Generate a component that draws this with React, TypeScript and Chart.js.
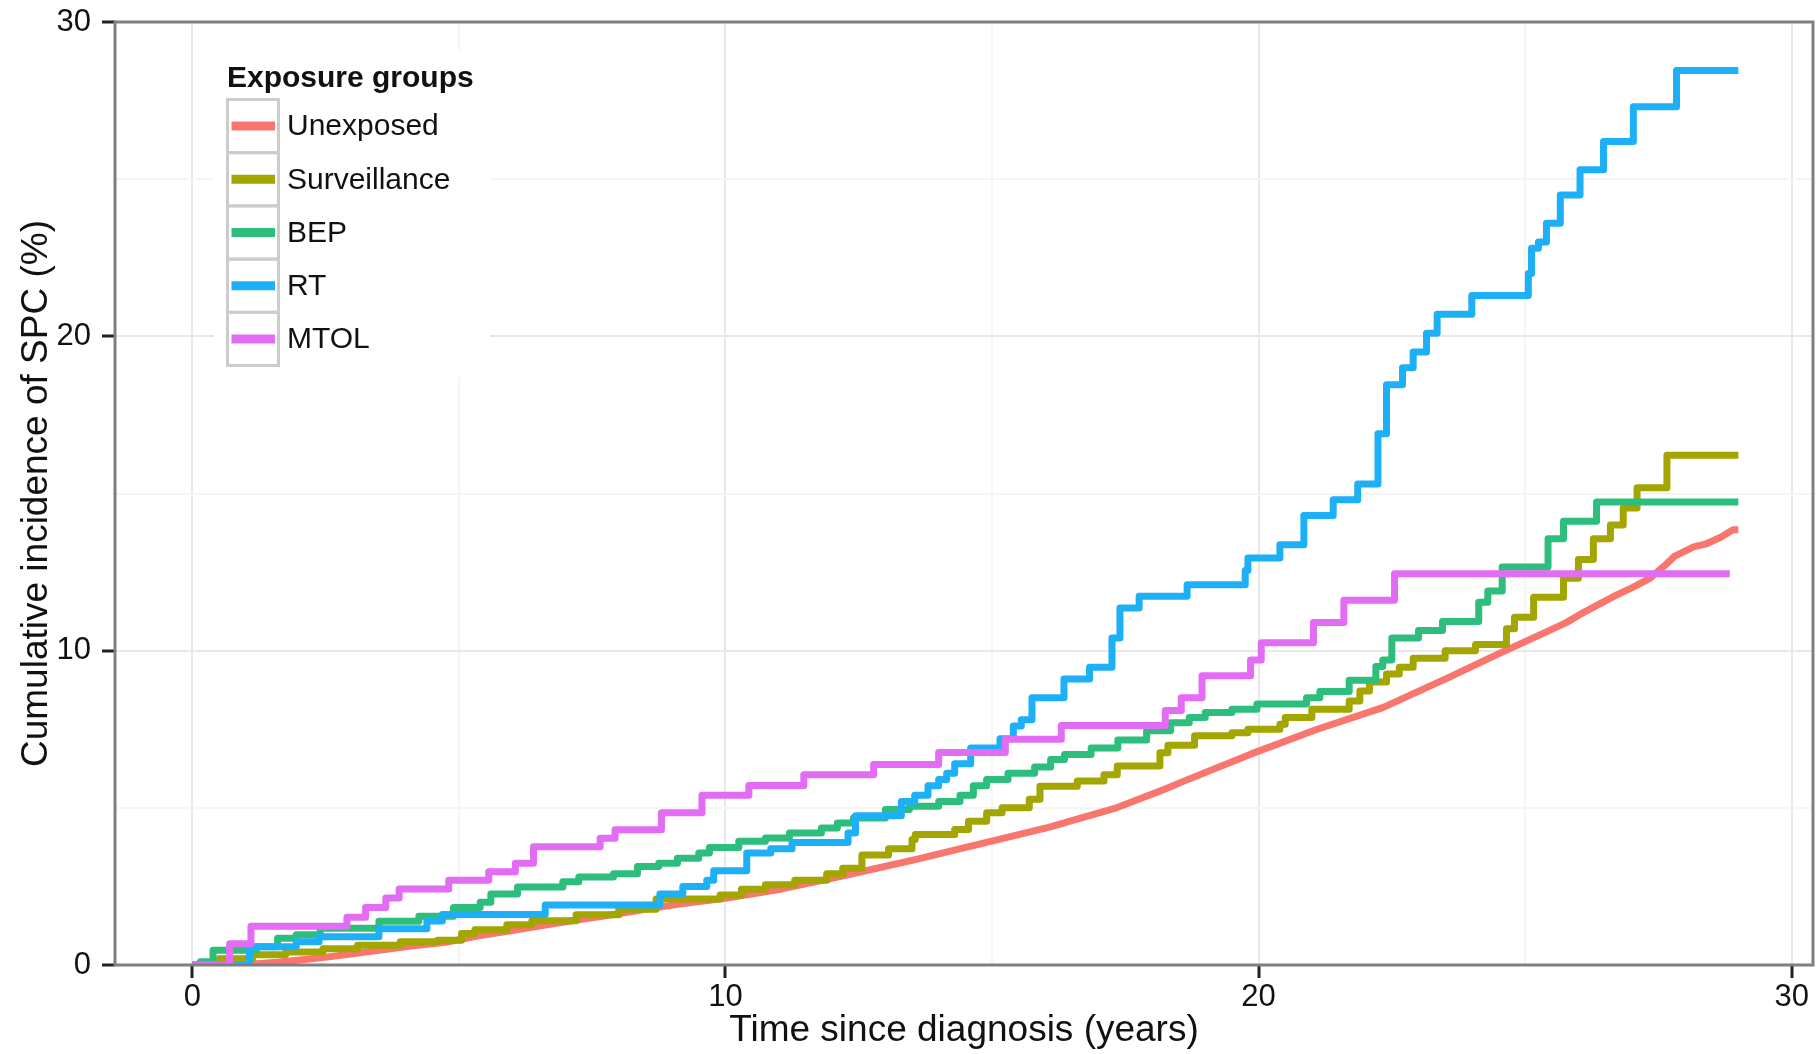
import React, { useEffect, useRef } from 'react';
import { Chart, registerables } from 'chart.js';

Chart.register(...registerables);

// ---- Data (time in years, cumulative incidence in %) ----
const seriesNames = ['Unexposed', 'Surveillance', 'BEP', 'RT', 'MTOL'];
const seriesColors = ['#F8766D', '#A3A500', '#2DBE7D', '#1EB0F6', '#E26CF3'];

const unexposedT = [0, 1.0, 1.6, 2.25, 2.9, 3.5, 4.1, 4.75, 5.37, 6.0, 6.62, 7.24, 7.87, 8.5, 9.1, 10.0, 11.06, 12.3, 13.56, 14.8, 16.06, 17.3, 18.25, 18.6, 19.84, 21.1, 22.33, 23.57, 24.5, 25.43, 25.78, 26.1, 26.4, 26.7, 27.03, 27.34, 27.66, 27.8, 28.16, 28.4, 28.66, 28.9, 29.0];
const unexposedY = [0, 0.02, 0.09, 0.2, 0.33, 0.47, 0.6, 0.72, 0.93, 1.1, 1.27, 1.44, 1.6, 1.77, 1.93, 2.12, 2.42, 2.87, 3.35, 3.86, 4.38, 4.98, 5.6, 5.85, 6.7, 7.5, 8.19, 9.15, 9.9, 10.62, 10.9, 11.22, 11.49, 11.76, 12.02, 12.3, 12.77, 13.0, 13.3, 13.4, 13.6, 13.85, 13.85];

const surveillanceT = [0, 0.3, 0.5, 1.13, 1.75, 2.45, 3.1, 3.9, 4.6, 5.05, 5.3, 5.9, 6.37, 7.2, 8.0, 8.7, 9.9, 10.3, 10.75, 11.3, 11.9, 12.2, 12.56, 13.06, 13.5, 13.56, 14.3, 14.56, 14.9, 15.19, 15.7, 15.9, 16.6, 17.1, 17.35, 18.15, 18.3, 18.8, 19.5, 19.8, 20.4, 20.5, 21.0, 21.7, 21.9, 22.08, 22.4, 22.64, 22.9, 23.5, 24.07, 24.65, 24.8, 25.16, 25.72, 26.0, 26.28, 26.6, 26.84, 27.1, 27.66, 29.0];
const surveillanceY = [0, 0.09, 0.2, 0.33, 0.41, 0.52, 0.63, 0.74, 0.79, 1.0, 1.12, 1.28, 1.41, 1.6, 1.77, 2.1, 2.23, 2.41, 2.55, 2.7, 2.9, 3.08, 3.5, 3.7, 3.99, 4.15, 4.31, 4.57, 4.84, 5.0, 5.27, 5.69, 5.85, 6.05, 6.33, 6.75, 6.99, 7.29, 7.39, 7.5, 7.66, 7.87, 8.14, 8.4, 8.72, 9.0, 9.26, 9.47, 9.76, 10.0, 10.2, 10.7, 11.06, 11.7, 12.3, 12.9, 13.56, 14.0, 14.54, 15.18, 16.22, 16.22];

const bepT = [0, 0.15, 0.39, 1.2, 1.6, 1.95, 2.4, 3.5, 4.25, 4.9, 5.4, 5.6, 6.1, 6.95, 7.25, 7.9, 8.35, 8.75, 9.1, 9.5, 9.7, 10.25, 10.75, 11.2, 11.8, 12.1, 12.4, 13.0, 13.45, 14.0, 14.4, 14.65, 14.9, 15.3, 15.8, 16.1, 16.36, 16.86, 17.36, 17.9, 18.35, 18.7, 19.0, 19.5, 19.97, 20.9, 21.15, 21.7, 22.2, 22.33, 22.5, 23.0, 23.45, 24.13, 24.3, 24.57, 25.43, 25.72, 26.34, 29.0];
const bepY = [0, 0.1, 0.47, 0.58, 0.85, 0.96, 1.17, 1.39, 1.55, 1.83, 2.0, 2.26, 2.48, 2.65, 2.8, 2.9, 3.13, 3.24, 3.4, 3.56, 3.74, 3.94, 4.04, 4.2, 4.36, 4.52, 4.68, 4.95, 5.05, 5.2, 5.4, 5.7, 5.9, 6.1, 6.3, 6.54, 6.7, 6.9, 7.16, 7.45, 7.71, 7.87, 8.03, 8.14, 8.3, 8.5, 8.7, 9.06, 9.5, 9.7, 10.4, 10.64, 10.93, 11.54, 11.9, 12.66, 13.56, 14.12, 14.73, 14.73];

const rtT = [0, 1.07, 1.95, 2.38, 3.5, 4.4, 4.69, 6.62, 8.77, 9.2, 9.65, 9.78, 10.4, 10.85, 11.25, 12.3, 12.44, 13.3, 13.55, 13.8, 14.0, 14.15, 14.3, 14.6, 15.15, 15.4, 15.55, 15.75, 16.35, 16.83, 17.25, 17.4, 17.76, 18.66, 19.75, 19.8, 20.4, 20.85, 21.4, 21.86, 22.24, 22.4, 22.7, 22.9, 23.15, 23.35, 24.0, 25.06, 25.12, 25.25, 25.4, 25.66, 26.03, 26.47, 27.03, 27.84, 29.0];
const rtY = [0, 0.58, 0.74, 0.9, 1.15, 1.4, 1.61, 1.91, 2.26, 2.5, 2.7, 3.0, 3.56, 3.7, 3.9, 4.2, 4.75, 5.2, 5.4, 5.7, 5.9, 6.1, 6.4, 6.9, 7.2, 7.6, 7.8, 8.5, 9.1, 9.47, 10.4, 11.36, 11.73, 12.1, 12.55, 12.95, 13.37, 14.3, 14.8, 15.3, 16.9, 18.46, 19.0, 19.5, 20.1, 20.7, 21.3, 22.0, 22.8, 23.0, 23.6, 24.5, 25.3, 26.2, 27.3, 28.46, 28.46];

const mtolT = [0, 0.7, 1.1, 2.9, 3.25, 3.63, 3.88, 4.81, 5.56, 6.06, 6.4, 7.65, 7.93, 8.8, 9.56, 10.44, 11.47, 12.78, 14.0, 15.25, 16.3, 18.25, 18.55, 18.94, 19.85, 20.05, 21.03, 21.6, 22.55, 28.84];
const mtolY = [0, 0.68, 1.23, 1.52, 1.83, 2.13, 2.42, 2.7, 2.97, 3.24, 3.76, 4.03, 4.3, 4.84, 5.4, 5.71, 6.05, 6.38, 6.76, 7.18, 7.62, 8.1, 8.5, 9.2, 9.7, 10.25, 10.9, 11.6, 12.45, 12.45];

const xTicks = [0, 10, 20, 30];
const yTicks = [0, 10, 20, 30];

const legendTitle = 'Exposure groups';
const xTitle = 'Time since diagnosis (years)';
const yTitle = 'Cumulative incidence of SPC (%)';

const FONT = '"Liberation Sans", Arial, Helvetica, sans-serif';

const seriesT = [unexposedT, surveillanceT, bepT, rtT, mtolT];
const seriesY = [unexposedY, surveillanceY, bepY, rtY, mtolY];
const seriesStepped = [false, true, true, true, true];

const panelPlugin = {
  id: 'panelFrame',
  afterDatasetsDraw(chart: any) {
    const { ctx, chartArea } = chart;
    ctx.save();
    ctx.strokeStyle = '#7f7f7f';
    ctx.lineWidth = 3;
    ctx.strokeRect(chartArea.left, chartArea.top, chartArea.right - chartArea.left, chartArea.bottom - chartArea.top);
    ctx.restore();
  },
};

const legendPlugin = {
  id: 'insideLegend',
  afterDraw(chart: any) {
    const { ctx } = chart;
    ctx.save();
    ctx.fillStyle = '#ffffff';
    ctx.fillRect(214, 50, 276, 327);
    ctx.fillStyle = '#111111';
    ctx.font = `bold 30px ${FONT}`;
    ctx.textBaseline = 'alphabetic';
    ctx.textAlign = 'left';
    ctx.fillText(legendTitle, 227, 87);
    const keyTop = 99.5;
    const keyH = 53.2;
    for (let i = 0; i < seriesNames.length; i++) {
      const top = keyTop + i * keyH;
      ctx.strokeStyle = '#cccccc';
      ctx.lineWidth = 3;
      ctx.strokeRect(227.5, top, 51, keyH);
      const cy = top + keyH / 2;
      ctx.strokeStyle = seriesColors[i];
      ctx.lineWidth = 9;
      ctx.lineCap = 'butt';
      ctx.beginPath();
      ctx.moveTo(231.5, cy);
      ctx.lineTo(275, cy);
      ctx.stroke();
      ctx.fillStyle = '#111111';
      ctx.font = `30px ${FONT}`;
      ctx.textBaseline = 'middle';
      ctx.fillText(seriesNames[i], 287, cy + 1);
    }
    ctx.restore();
  },
};

export default function App() {
  const canvasRef = useRef<HTMLCanvasElement | null>(null);

  useEffect(() => {
    const canvas = canvasRef.current;
    if (!canvas) return;
    const datasets = seriesNames.map((name, i) => ({
      label: name,
      data: seriesT[i].map((t, j) => ({ x: t, y: seriesY[i][j] })),
      borderColor: seriesColors[i],
      backgroundColor: seriesColors[i],
      borderWidth: 7,
      borderCapStyle: 'butt' as const,
      borderJoinStyle: 'round' as const,
      stepped: seriesStepped[i] ? ('before' as const) : false,
      tension: 0,
      pointRadius: 0,
      fill: false,
      order: seriesNames.length - i,
    }));

    const isMajor = (v: number, arr: number[]) => arr.some((m) => Math.abs(m - v) < 1e-6);

    const chart = new Chart(canvas, {
      type: 'line',
      data: { datasets },
      plugins: [panelPlugin, legendPlugin],
      options: {
        animation: false,
        responsive: false,
        devicePixelRatio: 1,
        layout: { padding: { top: 22, right: 4, bottom: 0, left: 0 } },
        plugins: {
          legend: { display: false },
          tooltip: { enabled: false },
        },
        scales: {
          x: {
            type: 'linear',
            min: -1.45,
            max: 30.4,
            border: { display: false },
            grid: {
              color: (c: any) => (isMajor(c.tick?.value, xTicks) ? '#e8e8e8' : '#f5f5f5'),
              lineWidth: 2,
              tickLength: 13,
              tickColor: (c: any) => (isMajor(c.tick?.value, xTicks) ? '#222222' : 'rgba(0,0,0,0)'),
              tickWidth: 3,
            },
            ticks: {
              stepSize: 5,
              includeBounds: false,
              autoSkip: false,
              maxRotation: 0,
              padding: 1,
              color: '#111111',
              font: { family: FONT, size: 31 },
              callback: (v: any) => (isMajor(Number(v), xTicks) ? String(v) : ''),
            },
            title: {
              display: true,
              text: xTitle,
              color: '#111111',
              font: { family: FONT, size: 37, lineHeight: 1.2 },
              padding: { top: 0, bottom: 1 },
            },
            afterFit: (scale: any) => {
              scale.height = 89;
              scale.paddingLeft = 0;
              scale.paddingRight = 0;
            },
          },
          y: {
            type: 'linear',
            min: 0,
            max: 30,
            border: { display: false },
            grid: {
              color: (c: any) => (isMajor(c.tick?.value, yTicks) ? '#e8e8e8' : '#f5f5f5'),
              lineWidth: 2,
              tickLength: 13,
              tickColor: (c: any) => (isMajor(c.tick?.value, yTicks) ? '#222222' : 'rgba(0,0,0,0)'),
              tickWidth: 3,
            },
            ticks: {
              stepSize: 5,
              includeBounds: false,
              autoSkip: false,
              padding: 11,
              color: '#111111',
              font: { family: FONT, size: 31 },
              callback: (v: any) => (isMajor(Number(v), yTicks) ? String(v) : ''),
            },
            title: {
              display: true,
              text: yTitle,
              color: '#111111',
              font: { family: FONT, size: 37, lineHeight: 1.2 },
              padding: { top: 15, bottom: 0 },
            },
            afterFit: (scale: any) => {
              scale.width = 115;
              scale.paddingTop = 0;
              scale.paddingBottom = 0;
            },
          },
        },
      },
    });
    return () => chart.destroy();
  }, []);

  return (
    <div style={{ position: 'fixed', left: 0, top: 0, width: 1817, height: 1054, background: '#ffffff' }}>
      <canvas ref={canvasRef} width={1817} height={1054} style={{ width: 1817, height: 1054, display: 'block' }} />
    </div>
  );
}
